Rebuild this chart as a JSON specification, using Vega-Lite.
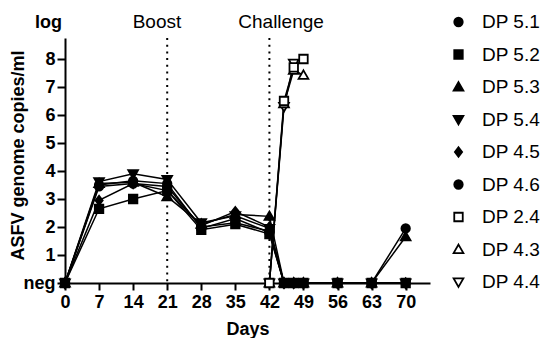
{
  "$schema": "https://vega.github.io/schema/vega-lite/v6.json",
  "width": 365,
  "height": 245,
  "autosize": {"type": "none"},
  "padding": {"left": 65, "top": 38, "right": 114, "bottom": 55},
  "background": "white",
  "config": {
    "view": {"stroke": null},
    "font": "Liberation Sans",
    "axis": {
      "grid": false,
      "domainColor": "black",
      "domainWidth": 2,
      "tickColor": "black",
      "tickWidth": 2,
      "labelOverlap": false,
      "labelFlush": false,
      "labelFont": "Liberation Sans",
      "labelFontSize": 18,
      "labelFontWeight": "bold",
      "labelColor": "black",
      "titleFont": "Liberation Sans",
      "titleFontSize": 18,
      "titleFontWeight": "bold",
      "titleColor": "black"
    },
    "legend": {
      "labelFont": "Liberation Sans",
      "labelFontSize": 19,
      "labelColor": "black",
      "labelOffset": 14,
      "rowPadding": 12.5,
      "symbolSize": 72,
      "symbolStrokeWidth": 1.8
    }
  },
  "datasets": {
    "obs": [
      {"series": "DP 5.1", "day": 0, "value": 0},
      {"series": "DP 5.1", "day": 7, "value": 3.45},
      {"series": "DP 5.1", "day": 14, "value": 3.55},
      {"series": "DP 5.1", "day": 21, "value": 3.45},
      {"series": "DP 5.1", "day": 28, "value": 2.0},
      {"series": "DP 5.1", "day": 35, "value": 2.15},
      {"series": "DP 5.1", "day": 42, "value": 1.85},
      {"series": "DP 5.1", "day": 45, "value": 0},
      {"series": "DP 5.1", "day": 47, "value": 0},
      {"series": "DP 5.1", "day": 49, "value": 0},
      {"series": "DP 5.1", "day": 56, "value": 0},
      {"series": "DP 5.1", "day": 63, "value": 0},
      {"series": "DP 5.1", "day": 70, "value": 0},
      {"series": "DP 5.3", "day": 0, "value": 0},
      {"series": "DP 5.3", "day": 7, "value": 3.55},
      {"series": "DP 5.3", "day": 14, "value": 3.6},
      {"series": "DP 5.3", "day": 21, "value": 3.08},
      {"series": "DP 5.3", "day": 28, "value": 2.1},
      {"series": "DP 5.3", "day": 35, "value": 2.45},
      {"series": "DP 5.3", "day": 42, "value": 2.38},
      {"series": "DP 5.3", "day": 45, "value": 0},
      {"series": "DP 5.3", "day": 47, "value": 0},
      {"series": "DP 5.3", "day": 49, "value": 0},
      {"series": "DP 5.3", "day": 56, "value": 0},
      {"series": "DP 5.3", "day": 63, "value": 0},
      {"series": "DP 5.3", "day": 70, "value": 1.65},
      {"series": "DP 5.4", "day": 0, "value": 0},
      {"series": "DP 5.4", "day": 7, "value": 3.62},
      {"series": "DP 5.4", "day": 14, "value": 3.9},
      {"series": "DP 5.4", "day": 21, "value": 3.7},
      {"series": "DP 5.4", "day": 28, "value": 2.15},
      {"series": "DP 5.4", "day": 35, "value": 2.4},
      {"series": "DP 5.4", "day": 42, "value": 1.95},
      {"series": "DP 5.4", "day": 45, "value": 0},
      {"series": "DP 5.4", "day": 47, "value": 0},
      {"series": "DP 5.4", "day": 49, "value": 0},
      {"series": "DP 5.4", "day": 56, "value": 0},
      {"series": "DP 5.4", "day": 63, "value": 0},
      {"series": "DP 5.4", "day": 70, "value": 0},
      {"series": "DP 4.5", "day": 0, "value": 0},
      {"series": "DP 4.5", "day": 7, "value": 2.95},
      {"series": "DP 4.5", "day": 14, "value": 3.55},
      {"series": "DP 4.5", "day": 21, "value": 3.3},
      {"series": "DP 4.5", "day": 28, "value": 2.05},
      {"series": "DP 4.5", "day": 35, "value": 2.55},
      {"series": "DP 4.5", "day": 42, "value": 2.0},
      {"series": "DP 4.5", "day": 45, "value": 0},
      {"series": "DP 4.5", "day": 47, "value": 0},
      {"series": "DP 4.5", "day": 49, "value": 0},
      {"series": "DP 4.5", "day": 56, "value": 0},
      {"series": "DP 4.5", "day": 63, "value": 0},
      {"series": "DP 4.5", "day": 70, "value": 0},
      {"series": "DP 4.6", "day": 0, "value": 0},
      {"series": "DP 4.6", "day": 7, "value": 3.5},
      {"series": "DP 4.6", "day": 14, "value": 3.65},
      {"series": "DP 4.6", "day": 21, "value": 3.55},
      {"series": "DP 4.6", "day": 28, "value": 1.95},
      {"series": "DP 4.6", "day": 35, "value": 2.3},
      {"series": "DP 4.6", "day": 42, "value": 1.8},
      {"series": "DP 4.6", "day": 45, "value": 0},
      {"series": "DP 4.6", "day": 47, "value": 0},
      {"series": "DP 4.6", "day": 49, "value": 0},
      {"series": "DP 4.6", "day": 56, "value": 0},
      {"series": "DP 4.6", "day": 63, "value": 0},
      {"series": "DP 4.6", "day": 70, "value": 1.95},
      {"series": "DP 5.2", "day": 0, "value": 0},
      {"series": "DP 5.2", "day": 7, "value": 2.65},
      {"series": "DP 5.2", "day": 14, "value": 3.0},
      {"series": "DP 5.2", "day": 21, "value": 3.3},
      {"series": "DP 5.2", "day": 28, "value": 1.9},
      {"series": "DP 5.2", "day": 35, "value": 2.1},
      {"series": "DP 5.2", "day": 42, "value": 1.75},
      {"series": "DP 5.2", "day": 45, "value": 0},
      {"series": "DP 5.2", "day": 47, "value": 0},
      {"series": "DP 5.2", "day": 49, "value": 0},
      {"series": "DP 5.2", "day": 56, "value": 0},
      {"series": "DP 5.2", "day": 63, "value": 0},
      {"series": "DP 5.2", "day": 70, "value": 0},
      {"series": "DP 4.4", "day": 42, "value": 0},
      {"series": "DP 4.4", "day": 45, "value": 6.3},
      {"series": "DP 4.4", "day": 47, "value": 7.85},
      {"series": "DP 4.3", "day": 42, "value": 0},
      {"series": "DP 4.3", "day": 45, "value": 6.4},
      {"series": "DP 4.3", "day": 47, "value": 7.6},
      {"series": "DP 4.3", "day": 49, "value": 7.42},
      {"series": "DP 2.4", "day": 42, "value": 0},
      {"series": "DP 2.4", "day": 45, "value": 6.5},
      {"series": "DP 2.4", "day": 47, "value": 7.7},
      {"series": "DP 2.4", "day": 49, "value": 8.0}
    ],
    "events": [
      {"day": 21, "label": "Boost"},
      {"day": 42, "label": "Challenge"}
    ],
    "notes": [
      {"day": 18.9, "value": 9.12, "label": "Boost"},
      {"day": 44.4, "value": 9.12, "label": "Challenge"}
    ],
    "unit": [
      {"day": 0, "value": 9.12, "label": "log"}
    ]
  },
  "layer": [
    {
      "data": {"name": "events"},
      "mark": {"type": "rule", "stroke": "black", "strokeWidth": 2, "strokeDash": [2, 4.7]},
      "encoding": {
        "x": {"field": "day", "type": "quantitative", "scale": {"domain": [0, 75], "nice": false, "zero": false}}
      }
    },
    {
      "data": {"name": "notes"},
      "mark": {"type": "text", "font": "Liberation Sans", "fontSize": 19, "color": "black", "align": "center", "baseline": "alphabetic"},
      "encoding": {
        "x": {"field": "day", "type": "quantitative", "scale": {"domain": [0, 75], "nice": false, "zero": false}},
        "y": {"field": "value", "type": "quantitative", "scale": {"domain": [0, 8.75], "nice": false, "zero": false}},
        "text": {"field": "label"}
      }
    },
    {
      "data": {"name": "unit"},
      "mark": {"type": "text", "font": "Liberation Sans", "fontSize": 18, "fontWeight": "bold", "color": "black", "align": "right", "baseline": "alphabetic", "dx": -3},
      "encoding": {
        "x": {"field": "day", "type": "quantitative", "scale": {"domain": [0, 75], "nice": false, "zero": false}},
        "y": {"field": "value", "type": "quantitative", "scale": {"domain": [0, 8.75], "nice": false, "zero": false}},
        "text": {"field": "label"}
      }
    },
    {
      "data": {"name": "obs"},
      "mark": {"type": "line", "stroke": "black", "strokeWidth": 1.5},
      "encoding": {
        "x": {"field": "day", "type": "quantitative", "scale": {"domain": [0, 75], "nice": false, "zero": false}},
        "y": {"field": "value", "type": "quantitative", "scale": {"domain": [0, 8.75], "nice": false, "zero": false}},
        "detail": {"field": "series"},
        "order": {"field": "day", "type": "quantitative"}
      }
    },
    {
      "data": {"name": "obs"},
      "mark": {"type": "point", "filled": true, "size": 72, "strokeWidth": 1.8, "opacity": 1},
      "encoding": {
        "x": {
          "field": "day", "type": "quantitative",
          "scale": {"domain": [0, 75], "nice": false, "zero": false},
          "axis": {
            "title": "Days",
            "values": [0, 7, 14, 21, 28, 35, 42, 49, 56, 63, 70],
            "tickCount": 30,
            "format": "d",
            "tickSize": 7,
            "labelPadding": 3,
            "titleY": 51,
            "titleBaseline": "alphabetic"
          }
        },
        "y": {
          "field": "value", "type": "quantitative",
          "scale": {"domain": [0, 8.75], "nice": false, "zero": false},
          "axis": {
            "title": "ASFV genome copies/ml",
            "values": [0, 1, 2, 3, 4, 5, 6, 7, 8],
            "tickCount": 30,
            "format": "d",
            "labelExpr": "datum.value === 0 ? 'neg' : datum.label",
            "tickSize": 8,
            "labelPadding": 2,
            "titleX": -47,
            "titleY": 117,
            "titleBaseline": "middle"
          }
        },
        "shape": {
          "field": "series", "type": "nominal",
          "scale": {
            "domain": ["DP 5.1", "DP 5.2", "DP 5.3", "DP 5.4", "DP 4.5", "DP 4.6", "DP 2.4", "DP 4.3", "DP 4.4"],
            "range": [
              "M-1,0A1,1,0,1,1,1,0A1,1,0,1,1,-1,0Z",
              "M-1,-1H1V1H-1Z",
              "M0,-1.15L1.15,0.85H-1.15Z",
              "M0,1.15L1.15,-0.85H-1.15Z",
              "M0,-1.1L0.85,0L0,1.1L-0.85,0Z",
              "M-1,0A1,1,0,1,1,1,0A1,1,0,1,1,-1,0Z",
              "M-1,-1H1V1H-1Z",
              "M0,-1.15L1.15,0.85H-1.15Z",
              "M0,1.15L1.15,-0.85H-1.15Z"
            ]
          },
          "legend": {"title": null, "orient": "none", "legendX": 384, "legendY": -25.5}
        },
        "fill": {
          "field": "series", "type": "nominal",
          "scale": {
            "domain": ["DP 5.1", "DP 5.2", "DP 5.3", "DP 5.4", "DP 4.5", "DP 4.6", "DP 2.4", "DP 4.3", "DP 4.4"],
            "range": ["black", "black", "black", "black", "black", "black", "white", "white", "white"]
          },
          "legend": {"title": null, "orient": "none", "legendX": 384, "legendY": -25.5}
        },
        "stroke": {
          "field": "series", "type": "nominal",
          "scale": {
            "domain": ["DP 5.1", "DP 5.2", "DP 5.3", "DP 5.4", "DP 4.5", "DP 4.6", "DP 2.4", "DP 4.3", "DP 4.4"],
            "range": ["black", "black", "black", "black", "black", "black", "black", "black", "black"]
          },
          "legend": {"title": null, "orient": "none", "legendX": 384, "legendY": -25.5}
        }
      }
    }
  ]
}
